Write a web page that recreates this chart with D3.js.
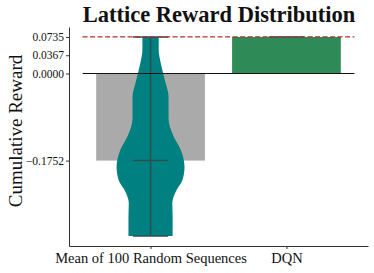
<!DOCTYPE html>
<html>
<head>
<meta charset="utf-8">
<title>Lattice Reward Distribution</title>
<script src="https://d3js.org/d3.v7.min.js"></script>
<style>
body {
	margin: 0;
	background-color: white;
}
svg text {
	font-family: "Liberation Serif", "DejaVu Serif", serif;
	fill: #111;
}
.axis path, .axis line {
	stroke: #333;
}
</style>
</head>
<body>
<div id="chart"></div>
<script>
/* globals d3 */
"use strict";

// categories and bar heights (mean cumulative reward)
const categories = ["Mean of 100 Random Sequences", "DQN"];
const barValues = [-0.1752, 0.0735];
const barColors = ["#aaaaaa", "#2e8b57"];
const yTicks = [-0.1752, 0.0000, 0.0367, 0.0735];

// violin of the random sequences: reward level and relative density
const violinLevels = [0.0735, 0.047, 0.021, -0.013, -0.047, -0.090, -0.127,
	-0.154, -0.188, -0.214, -0.234, -0.261, -0.288, -0.322, -0.327];
const violinDensity = [0.24, 0.24, 0.30, 0.42, 0.53, 0.53, 0.68,
	0.89, 1.00, 0.94, 0.77, 0.64, 0.65, 0.65, 0.65];
const violinStats = {min: -0.327, max: 0.0735, mean: -0.1752};
const dqnValue = 0.0735;

const width = 374, height = 273;
const x = d3.scaleLinear([-0.6, 1.6], [69, 368]);
const y = d3.scaleLinear([-0.347, 0.0935], [246, 27]);

const svg = d3.select("#chart").append("svg")
	.attr("width", width)
	.attr("height", height);

// bars
svg.selectAll("rect.bar")
	.data(barValues)
	.join("rect")
	.attr("class", "bar")
	.attr("x", (d, i) => x(i - 0.4))
	.attr("width", x(0.8) - x(0))
	.attr("y", d => y(Math.max(0, d)))
	.attr("height", d => Math.abs(y(d) - y(0)))
	.attr("fill", (d, i) => barColors[i]);

// violin body
const halfW = 0.25;
const area = d3.area()
	.y((d, i) => y(violinLevels[i]))
	.x0((d, i) => x(0 - halfW * violinDensity[i]))
	.x1((d, i) => x(0 + halfW * violinDensity[i]))
	.curve(d3.curveMonotoneY);
svg.append("path")
	.attr("d", area(violinLevels))
	.attr("fill", "#008080");

// violin lines
const capW = 0.13;
const lineColor = "#2f4f4f";
const vlines = [
	[0, violinStats.max, 0, violinStats.min],
	[-capW, violinStats.max, capW, violinStats.max],
	[-capW, violinStats.min, capW, violinStats.min],
	[-capW, violinStats.mean, capW, violinStats.mean],
	[1 - capW, dqnValue, 1 + capW, dqnValue]
];
svg.selectAll("line.vl")
	.data(vlines)
	.join("line")
	.attr("class", "vl")
	.attr("x1", d => x(d[0]))
	.attr("y1", d => y(d[1]))
	.attr("x2", d => x(d[2]))
	.attr("y2", d => y(d[3]))
	.attr("stroke", lineColor)
	.attr("stroke-width", 1.5);

// reference lines
svg.append("line")
	.attr("x1", x(-0.5)).attr("x2", x(1.5))
	.attr("y1", y(0)).attr("y2", y(0))
	.attr("stroke", "#111").attr("stroke-width", 1.2);
svg.append("line")
	.attr("x1", x(-0.5)).attr("x2", x(1.5))
	.attr("y1", y(dqnValue)).attr("y2", y(dqnValue))
	.attr("stroke", "#b22f2f").attr("stroke-width", 1.3)
	.attr("stroke-dasharray", "5,2.5");

// axes
const fmt = d => d3.format(".4f")(d).replace("-", "\u2212");
svg.append("g")
	.attr("class", "axis")
	.attr("transform", "translate(69,0)")
	.call(d3.axisLeft(y).tickValues(yTicks).tickFormat(fmt).tickSize(3).tickPadding(2).tickSizeOuter(0))
	.call(g => g.selectAll("text").style("font-size", "11.5px"));
svg.append("g")
	.attr("class", "axis")
	.attr("transform", "translate(0,246)")
	.call(d3.axisBottom(x).tickValues([0, 1]).tickFormat(i => categories[i]).tickSize(3).tickPadding(4).tickSizeOuter(0))
	.call(g => g.selectAll("text").style("font-size", "14.5px"));
svg.selectAll(".axis text").attr("font-family", null);

// title and y label
svg.append("text")
	.attr("x", 219)
	.attr("y", 22)
	.attr("text-anchor", "middle")
	.style("font-size", "22.5px")
	.style("font-weight", "bold")
	.text("Lattice Reward Distribution");
svg.append("text")
	.attr("transform", "translate(22,131) rotate(-90)")
	.attr("text-anchor", "middle")
	.style("font-size", "19px")
	.text("Cumulative Reward");
</script>
</body>
</html>
